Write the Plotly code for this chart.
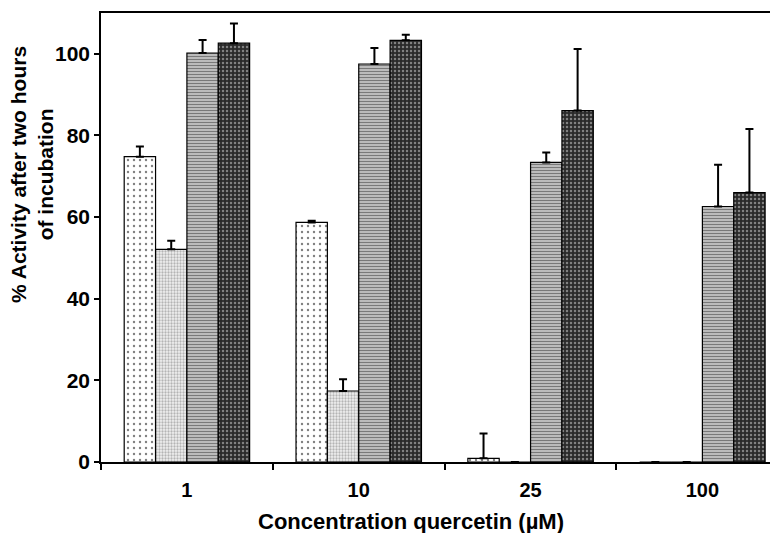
import plotly.graph_objects as go

categories = ["1", "10", "25", "100"]
series1 = [74.8, 58.7, 0.9, 0.0]
series1_err = [2.5, 0.4, 6.1, 0.0]
series2 = [52.1, 17.4, 0.0, 0.0]
series2_err = [2.1, 2.9, 0.0, 0.0]
series3 = [100.2, 97.5, 73.4, 62.6]
series3_err = [3.2, 3.9, 2.4, 10.2]
series4 = [102.6, 103.3, 86.1, 66.0]
series4_err = [4.8, 1.4, 15.1, 15.6]
y_ticks = [0, 20, 40, 60, 80, 100]

FONT = "Liberation Sans, Arial, sans-serif"

styles = [
    dict(color="white", pattern=dict(shape=".", fgcolor="black", bgcolor="white", size=6, solidity=0.12)),
    dict(color="#e8e8e8", pattern=dict(shape=".", fgcolor="#777777", bgcolor="#f0f0f0", size=3, solidity=0.45)),
    dict(color="#999999", pattern=dict(shape="-", fgcolor="#222222", bgcolor="#d0d0d0", size=3, solidity=0.5)),
    dict(color="#333333", pattern=dict(shape=".", fgcolor="#d8d8d8", bgcolor="#2a2a2a", size=4, solidity=0.3)),
]

fig = go.Figure()
for vals, errs, st in zip([series1, series2, series3, series4],
                          [series1_err, series2_err, series3_err, series4_err], styles):
    fig.add_trace(go.Bar(
        x=categories, y=vals,
        marker=dict(color=st["color"], pattern=st["pattern"], line=dict(color="black", width=1.2)),
        error_y=dict(type="data", symmetric=False, array=errs, arrayminus=[0] * len(errs),
                     color="black", thickness=2, width=4),
        showlegend=False,
    ))

fig.update_layout(
    width=770, height=525,
    margin=dict(l=93, r=0, t=5, b=71, autoexpand=False),
    paper_bgcolor="white", plot_bgcolor="white",
    barmode="group", bargap=0.27, bargroupgap=0,
    font=dict(family=FONT, color="black"),
    xaxis=dict(type="category", range=[-0.5, 3.44], showline=True, linecolor="black", linewidth=1.5,
               mirror=True, ticks="outside", ticklen=6, tickcolor="black", tickwidth=1.5,
               tickson="boundaries", ticklabelstandoff=9, automargin=False,
               tickfont=dict(size=20, family=FONT, weight="bold"), showgrid=False),
    yaxis=dict(range=[0, 110], tickvals=y_ticks, showline=True, linecolor="black", linewidth=1.5,
               ticks="outside", ticklen=5, tickcolor="black", tickwidth=1.5, automargin=False,
               tickfont=dict(size=21, family=FONT, weight="bold"), showgrid=False, zeroline=False),
    annotations=[
        dict(text="% Activity after two hours<br>of incubation", xref="paper", yref="paper",
             x=(32 - 101) / 677, y=(462 - 175) / 449, xanchor="center", yanchor="middle",
             textangle=-90, showarrow=False,
             font=dict(size=21, family=FONT, weight="bold")),
        dict(text="Concentration quercetin (µM)", xref="paper", yref="paper",
             x=(411 - 101) / 677, y=(462 - 521) / 449, xanchor="center", yanchor="middle",
             showarrow=False,
             font=dict(size=22, family=FONT, weight="bold")),
    ],
)

fig.write_html("out.html")
